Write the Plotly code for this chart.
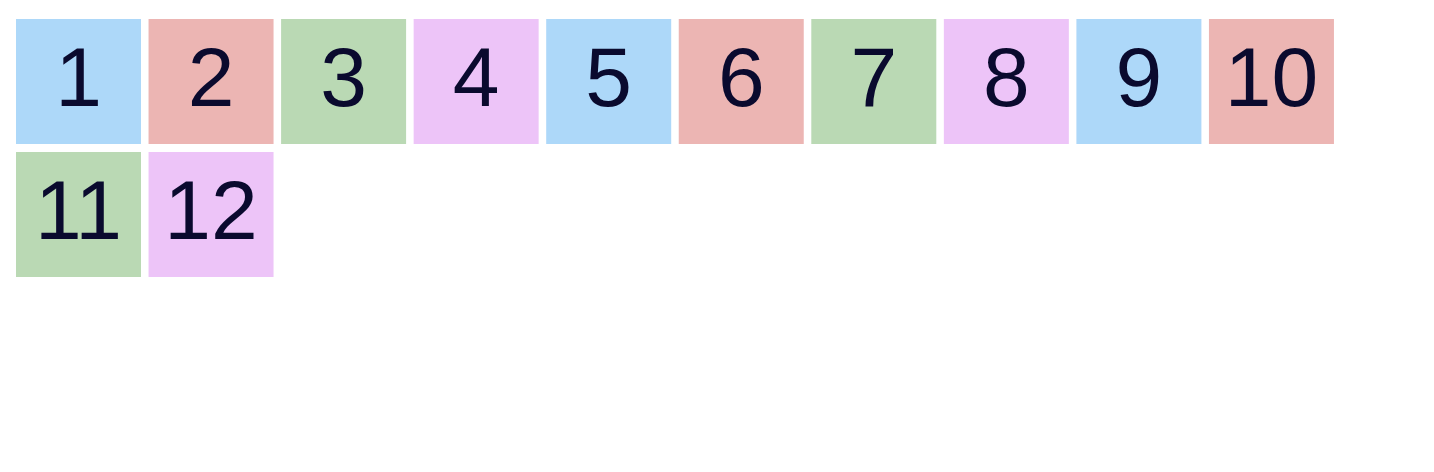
import plotly.graph_objects as go

labels = [str(i) for i in range(1, 13)]
palette = ["#ADD8F9", "#ECB5B3", "#BAD9B4", "#EDC4F8"]
per_row = 10

W, H = 1434, 472
page_margin = 8  # browser body margin shifts the plot
x0, y0 = 16 - page_margin, 19 - page_margin
size = 125
pitch_x = 132.55
pitch_y = 133

xs, ys, cols = [], [], []
for i, lab in enumerate(labels):
    c, r = i % per_row, i // per_row
    xs.append(x0 + size / 2 + c * pitch_x)
    ys.append(y0 + size / 2 + r * pitch_y)
    cols.append(palette[i % len(palette)])

fig = go.Figure()
fig.add_trace(go.Scatter(
    x=xs, y=ys, mode="markers",
    marker=dict(symbol="square", size=size, color=cols, line=dict(width=0)),
    hoverinfo="skip", showlegend=False,
))
fig.add_trace(go.Scatter(
    x=xs, y=[y + 3.5 for y in ys], mode="text", text=labels,
    textposition="middle center",
    textfont=dict(family="Liberation Sans, Arial, sans-serif", size=84, color="#0A0A2E"),
    hoverinfo="skip", showlegend=False,
))
fig.update_layout(
    width=W, height=H, margin=dict(l=0, r=0, t=0, b=0),
    paper_bgcolor="white", plot_bgcolor="white",
    xaxis=dict(range=[0, W], visible=False, fixedrange=True),
    yaxis=dict(range=[H, 0], visible=False, fixedrange=True),
)
fig.write_html("out.html")
